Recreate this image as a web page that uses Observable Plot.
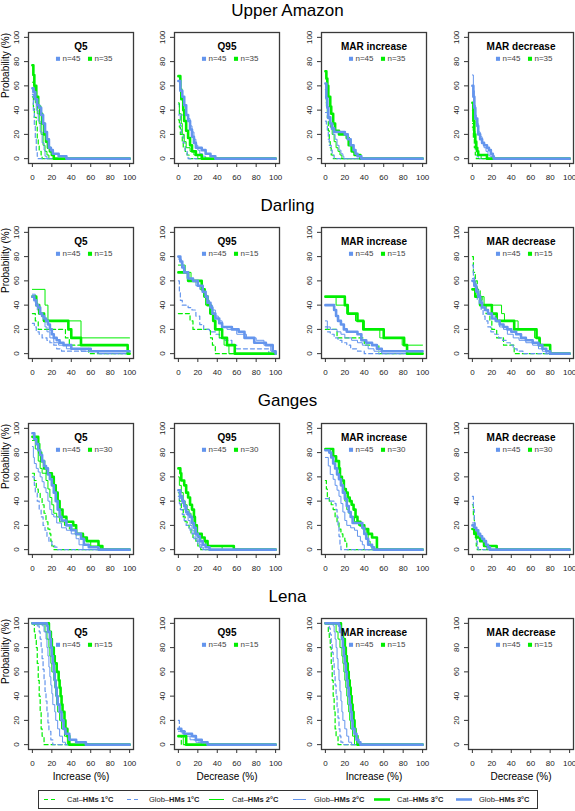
<!DOCTYPE html>
<html><head><meta charset="utf-8">
<script src="https://cdn.jsdelivr.net/npm/d3@7"></script>
<script src="https://cdn.jsdelivr.net/npm/@observablehq/plot@0.6"></script>
<style>
body{margin:0;background:#fff;font-family:"Liberation Sans",Arial,sans-serif;}
#root{position:relative;width:575px;height:811px;overflow:hidden;background:#fff;}
.basin{position:absolute;left:0;width:575px;text-align:center;font-size:17px;line-height:20px;color:#000;}
.panel{position:absolute;width:147px;}
.panel svg{max-width:none !important;}
#legend{position:absolute;left:0;top:786px;}
</style>
</head><body><div id="root"></div>
<script>
// ---- labels ----
const basins = ["Upper Amazon", "Darling", "Ganges", "Lena"];
const metrics = ["Q5", "Q95", "MAR increase", "MAR decrease"];
const xAxisLabels = ["Increase (%)", "Decrease (%)", "Increase (%)", "Decrease (%)"];
const nGlob = [45, 45, 45, 45];
const nCat = [35, 15, 30, 15];
const xTicks = [0, 20, 40, 60, 80, 100];
const yTicks = [0, 20, 40, 60, 80, 100];
const seriesNames = ["Cat–HMs 1°C", "Glob–HMs 1°C", "Cat–HMs 2°C", "Glob–HMs 2°C", "Cat–HMs 3°C", "Glob–HMs 3°C"];

// ---- exceedance curves: [x, probability] steps; order cat1, glob1, cat2, glob2, cat3, glob3 ----
const amazonQ5 = [
  [[0,51],[1,43],[2,34],[4,26],[5,17],[6,11],[7,6],[9,3],[10,0]],
  [[0,53],[1,40],[2,27],[3,16],[4,7],[5,2],[6,0]],
  [[0,63],[2,54],[3,46],[5,37],[7,29],[9,20],[11,11],[13,6],[15,3],[17,0]],
  [[0,58],[2,49],[4,40],[6,31],[8,22],[10,13],[12,7],[13,2],[15,0]],
  [[0,77],[1,69],[2,60],[4,51],[6,43],[8,37],[10,29],[12,20],[14,14],[16,9],[18,6],[20,3],[22,0]],
  [[0,58],[1,55],[3,49],[5,44],[7,42],[9,36],[11,29],[13,22],[15,16],[17,9],[19,7],[21,4],[27,2],[35,0]]
];
const amazonQ95 = [
  [[0,32],[1,26],[2,20],[4,14],[5,9],[7,6],[9,3],[11,0]],
  [[0,45],[1,35],[2,27],[3,20],[5,13],[7,7],[9,3],[10,0]],
  [[0,46],[1,37],[3,29],[4,20],[6,14],[8,9],[12,6],[16,3],[20,0]],
  [[0,36],[10,33],[12,27],[14,22],[16,16],[18,11],[20,7],[22,4],[25,2],[28,0]],
  [[0,68],[2,57],[3,49],[5,40],[6,31],[8,23],[10,17],[12,11],[14,6],[18,3],[24,0]],
  [[0,64],[2,56],[4,51],[6,44],[8,36],[10,31],[12,24],[14,18],[16,13],[18,9],[24,7],[28,4],[33,2],[38,0]]
];
const amazonMARinc = [
  [[0,57],[1,46],[2,34],[3,23],[4,14],[5,9],[6,3],[8,0]],
  [[0,31],[1,27],[2,22],[3,16],[4,11],[6,7],[7,3],[9,0]],
  [[0,51],[1,43],[3,34],[5,26],[7,20],[9,14],[11,9],[13,6],[15,3],[17,0]],
  [[0,38],[2,33],[4,29],[6,24],[8,20],[10,16],[12,11],[14,7],[16,4],[18,2],[19,0]],
  [[0,72],[1,66],[2,60],[3,51],[5,43],[6,37],[8,29],[10,23],[14,20],[22,17],[24,11],[27,6],[30,3],[36,0]],
  [[0,62],[1,50],[2,42],[3,34],[5,29],[7,25],[9,22],[20,20],[23,16],[26,11],[29,7],[31,4],[33,2],[37,0]]
];
const amazonMARdec = [
  [[0,26],[1,17],[2,9],[3,3],[4,0]],
  [[0,40],[1,31],[2,22],[3,13],[4,7],[5,2],[6,0]],
  [[0,29],[1,23],[2,17],[3,11],[4,6],[6,3],[9,0]],
  [[0,69],[1,56],[2,44],[3,36],[4,29],[6,22],[8,18],[10,13],[12,9],[14,6],[16,3],[18,2],[20,0]],
  [[0,46],[1,31],[2,20],[3,14],[4,9],[5,6],[6,3],[15,0]],
  [[0,60],[1,51],[2,42],[3,33],[5,27],[6,20],[8,16],[10,13],[12,11],[15,9],[17,7],[19,4],[21,2],[22,0]]
];
const darlingQ5 = [
  [[0,33],[3,27],[6,20],[34,13],[38,7],[58,0]],
  [[0,25],[2,22],[4,18],[7,16],[10,13],[15,11],[18,9],[22,7],[25,4],[30,2],[67,0]],
  [[0,53],[13,40],[16,27],[50,13]],
  [[0,49],[3,42],[5,36],[8,33],[11,27],[13,22],[15,18],[18,13],[22,9],[27,7],[35,4],[50,2],[68,0]],
  [[0,47],[4,40],[7,33],[12,27],[37,20],[40,13],[50,7],[98,0]],
  [[0,47],[2,44],[4,40],[6,38],[8,33],[10,31],[12,29],[14,27],[16,24],[18,20],[20,16],[22,13],[25,11],[28,9],[32,7],[40,4],[60,2]]
];
const darlingQ95 = [
  [[0,33],[12,27],[15,20],[33,13],[35,7],[38,0]],
  [[0,60],[1,51],[2,44],[4,40],[10,38],[14,36],[18,31],[22,24],[26,20],[32,18],[38,16],[42,13],[48,11],[55,7],[60,4],[93,0]],
  [[0,73],[7,67],[13,60],[24,53],[26,47],[28,40],[32,33],[35,27],[37,20],[42,13],[47,7],[52,0]],
  [[0,78],[3,73],[6,67],[9,62],[14,60],[18,56],[22,53],[26,49],[29,44],[32,40],[35,36],[38,31],[41,27],[45,22],[50,20],[60,16],[70,13],[80,11],[88,7],[95,2],[99,0]],
  [[0,67],[10,60],[24,53],[27,47],[30,40],[33,33],[36,27],[38,20],[45,13],[50,7],[58,0]],
  [[0,80],[2,76],[4,71],[6,67],[10,62],[15,60],[20,56],[25,51],[28,47],[30,42],[33,38],[35,33],[38,29],[42,25],[45,22],[55,20],[62,18],[68,13],[78,9],[90,7],[97,2],[100,0]]
];
const darlingMARinc = [
  [[0,20],[12,13],[40,7],[55,0]],
  [[0,22],[2,18],[5,16],[9,13],[13,11],[17,9],[22,7],[26,4],[33,2],[40,0]],
  [[0,47],[11,40],[22,33],[31,27],[40,20],[56,13],[79,7]],
  [[0,27],[2,22],[5,20],[12,18],[16,16],[20,13],[27,11],[33,9],[38,7],[44,4],[50,2],[58,0]],
  [[0,47],[20,40],[23,33],[33,27],[39,20],[60,13],[81,7],[84,0]],
  [[0,40],[9,36],[11,31],[13,27],[16,24],[19,20],[22,18],[33,16],[37,11],[42,9],[48,7],[53,4],[58,2]]
];
const darlingMARdec = [
  [[0,80],[1,67],[3,60],[5,53],[8,47],[10,40],[14,33],[18,27],[20,20],[25,13],[32,7],[43,0]],
  [[0,73],[1,64],[2,56],[3,51],[5,44],[7,40],[9,36],[11,31],[13,27],[16,22],[19,18],[23,16],[27,13],[31,11],[35,9],[39,7],[42,4],[46,2],[52,0]],
  [[0,60],[3,53],[6,47],[12,40],[30,33],[33,27],[47,20],[64,13],[70,7],[80,0]],
  [[0,62],[2,58],[4,53],[6,49],[8,44],[10,40],[13,36],[16,33],[20,31],[24,27],[28,22],[32,20],[36,16],[42,13],[48,11],[55,9],[62,7],[68,4],[72,2],[76,0]],
  [[0,53],[3,47],[8,40],[20,33],[25,27],[43,20],[66,13],[69,7],[80,0]],
  [[0,60],[2,56],[4,51],[6,47],[8,42],[10,38],[13,36],[16,33],[20,29],[24,27],[28,24],[32,22],[36,20],[40,18],[45,16],[50,13],[55,11],[62,9],[68,7],[72,4],[76,2],[80,0]]
];
const gangesQ5 = [
  [[0,63],[2,57],[4,50],[6,47],[8,43],[10,37],[12,30],[14,23],[16,17],[18,13],[19,7],[20,3],[22,0]],
  [[0,60],[2,53],[3,47],[5,40],[7,33],[9,27],[11,20],[13,16],[15,11],[17,7],[20,4],[23,2],[26,0]],
  [[0,90],[3,83],[6,73],[8,67],[10,63],[14,57],[16,50],[18,43],[20,37],[22,30],[25,27],[28,23],[33,20],[38,17],[45,13],[50,10],[55,7],[60,3],[70,0]],
  [[0,85],[1,76],[2,71],[4,67],[6,64],[8,60],[10,56],[12,51],[14,47],[16,40],[18,33],[20,29],[22,27],[25,22],[30,18],[35,16],[40,13],[45,9],[48,4],[52,0]],
  [[0,93],[6,87],[7,80],[9,73],[12,67],[15,63],[20,60],[22,53],[24,47],[26,40],[28,33],[31,27],[35,23],[42,20],[45,13],[52,10],[56,7],[68,3],[72,0]],
  [[0,96],[2,91],[4,87],[6,82],[8,78],[10,73],[12,69],[14,67],[16,62],[18,58],[20,53],[22,47],[24,40],[26,33],[28,27],[30,24],[35,20],[40,16],[45,13],[50,9],[53,4],[58,2],[68,0]]
];
const gangesQ95 = [
  [[0,47],[1,40],[3,33],[5,27],[7,23],[9,20],[11,17],[13,13],[15,10],[18,7],[20,3],[23,0]],
  [[0,44],[1,38],[2,33],[4,29],[6,24],[8,20],[10,18],[12,16],[14,13],[16,9],[18,7],[20,4],[22,2],[25,0]],
  [[0,60],[1,53],[3,47],[5,40],[7,37],[9,33],[11,30],[13,27],[15,20],[17,13],[20,10],[23,7],[28,3],[45,0]],
  [[0,47],[2,42],[4,38],[6,33],[8,29],[10,24],[12,20],[14,16],[16,13],[18,9],[20,7],[22,4],[24,2],[26,0]],
  [[0,67],[2,63],[3,57],[6,53],[8,47],[10,43],[12,37],[14,33],[16,27],[17,20],[19,13],[24,10],[27,7],[30,3],[57,0]],
  [[0,49],[2,44],[4,40],[6,36],[8,31],[10,29],[12,27],[14,22],[16,18],[18,13],[20,11],[22,7],[25,4],[28,2],[32,0]]
];
const gangesMARinc = [
  [[0,57],[1,50],[2,43],[4,40],[6,37],[8,33],[10,27],[12,23],[14,17],[16,13],[18,10],[20,7],[22,0]],
  [[0,42],[5,40],[10,38],[11,33],[12,27],[13,20],[14,11],[15,4],[16,0]],
  [[0,83],[5,80],[8,73],[10,67],[12,63],[14,60],[16,53],[18,47],[20,40],[22,33],[24,30],[26,27],[30,23],[34,20],[38,17],[42,13],[44,7],[46,3],[48,0]],
  [[0,76],[3,69],[5,62],[8,58],[10,53],[12,49],[14,44],[16,38],[18,31],[20,24],[22,20],[26,18],[30,16],[33,11],[36,7],[38,4],[40,0]],
  [[0,83],[8,77],[11,73],[14,67],[15,60],[17,57],[19,50],[21,47],[23,43],[25,40],[27,37],[29,33],[31,27],[33,23],[36,20],[40,17],[44,13],[48,10],[53,0]],
  [[0,82],[4,80],[6,76],[8,71],[10,67],[12,62],[14,58],[16,53],[18,47],[20,42],[22,36],[24,31],[26,27],[28,22],[38,18],[40,13],[42,9],[44,4],[48,2],[50,0]]
];
const gangesMARdec = [
  [[0,37],[1,27],[2,17],[3,10],[4,3],[5,0]],
  [[0,44],[1,33],[2,22],[3,13],[4,7],[5,2],[6,0]],
  [[0,20],[2,17],[4,13],[6,10],[9,7],[12,3],[15,0]],
  [[0,22],[2,18],[4,16],[6,13],[8,9],[10,7],[12,4],[14,2],[16,0]],
  [[0,17],[2,13],[4,10],[8,7],[12,3],[25,0]],
  [[0,20],[2,18],[4,16],[6,13],[8,11],[10,9],[12,7],[14,4],[16,2],[18,0]]
];
const lenaQ5 = [
  [[0,100],[2,93],[3,87],[4,80],[5,67],[6,53],[7,40],[8,27],[9,13],[10,7],[12,0]],
  [[0,100],[5,98],[7,93],[8,87],[9,80],[10,71],[11,62],[12,53],[13,44],[14,36],[15,27],[16,18],[17,11],[19,4],[21,0]],
  [[0,100],[13,93],[15,87],[17,80],[18,73],[19,67],[20,60],[22,53],[23,47],[24,40],[25,33],[26,27],[28,20],[30,13],[33,7],[36,0]],
  [[0,100],[10,98],[12,93],[14,87],[15,80],[16,73],[17,64],[18,56],[19,49],[20,42],[21,33],[23,27],[24,20],[26,13],[28,7],[31,2],[34,0]],
  [[0,100],[17,93],[19,87],[20,80],[22,73],[23,67],[25,60],[27,53],[28,47],[29,40],[30,33],[31,27],[33,20],[34,13],[36,7],[38,0]],
  [[0,100],[15,98],[16,93],[18,87],[19,80],[20,73],[21,67],[22,60],[23,53],[24,47],[25,40],[26,33],[28,27],[30,20],[32,13],[34,9],[38,4],[45,2],[55,0]]
];
const lenaQ95 = [
  [[0,7],[3,0]],
  [[0,20],[1,13],[3,11],[8,9],[12,7],[16,4],[20,2],[26,0]],
  [[0,7],[5,0]],
  [[0,11],[4,9],[8,7],[12,4],[18,2],[24,0]],
  [[0,7],[8,0]],
  [[0,13],[3,11],[6,9],[14,7],[18,4],[24,2],[30,0]]
];
const lenaMARinc = [
  [[0,100],[3,93],[4,87],[5,80],[6,67],[7,53],[8,40],[9,27],[10,13],[11,7],[13,0]],
  [[0,100],[4,96],[5,91],[6,84],[7,76],[8,67],[9,58],[10,49],[11,40],[12,31],[13,22],[14,13],[15,7],[16,2],[18,0]],
  [[0,100],[11,93],[13,87],[15,80],[17,73],[18,67],[19,60],[20,53],[21,47],[22,40],[23,33],[24,27],[25,20],[26,13],[28,7],[30,0]],
  [[0,100],[8,98],[9,93],[10,87],[11,80],[12,71],[13,62],[14,53],[15,44],[16,36],[17,27],[18,20],[20,13],[22,7],[24,2],[27,0]],
  [[0,100],[16,93],[18,87],[20,80],[21,73],[22,67],[23,60],[24,53],[25,47],[26,40],[27,33],[28,27],[29,20],[30,13],[31,7],[33,0]],
  [[0,100],[14,98],[15,93],[17,87],[18,80],[19,73],[20,67],[21,60],[22,53],[23,47],[24,40],[25,33],[26,27],[27,20],[28,13],[30,9],[32,4],[34,2],[36,0]]
];
const lenaMARdec = [[], [], [], [], [], []];

const panels = [
  [amazonQ5, amazonQ95, amazonMARinc, amazonMARdec],
  [darlingQ5, darlingQ95, darlingMARinc, darlingMARdec],
  [gangesQ5, gangesQ95, gangesMARinc, gangesMARdec],
  [lenaQ5, lenaQ95, lenaMARinc, lenaMARdec]
];

// ---- styles ----
const GREEN = "#00EE00", BLUE = "#6495ED";
const seriesStyle = [
  {stroke: GREEN, strokeWidth: 1.2, dash: "4,3"},
  {stroke: BLUE, strokeWidth: 1.2, dash: "4,3"},
  {stroke: GREEN, strokeWidth: 1, dash: null},
  {stroke: BLUE, strokeWidth: 1, dash: null},
  {stroke: GREEN, strokeWidth: 2.6, dash: null},
  {stroke: BLUE, strokeWidth: 2.6, dash: null}
];
const FONT = '"Liberation Sans", Arial, Helvetica, sans-serif';
const frameLeft = [28, 174, 321, 468];
const frameTop = [32, 227, 423, 618];
const basinTitleY = [1, 196, 391, 587];
const MT = 24, MB = 44, ML = 28, MR = 14, FW = 105, FH = 131;

const root = document.getElementById("root");

basins.forEach((b, r) => {
  const d = document.createElement("div");
  d.className = "basin";
  d.style.top = basinTitleY[r] + "px";
  d.textContent = b;
  root.appendChild(d);
});

for (let r = 0; r < 4; r++) {
  for (let c = 0; c < 4; c++) {
    const series = panels[r][c];
    const marks = [];
    series.forEach((pts, i) => {
      if (!pts.length) return;
      const st = seriesStyle[i];
      const data = pts.map(([x, y]) => ({x, y, s: seriesNames[i]}));
      data.push({x: 100, y: pts[pts.length - 1][1], s: seriesNames[i]});
      marks.push(Plot.line(data, {
        x: "x", y: "y", curve: "step-after",
        stroke: st.stroke, strokeWidth: st.strokeWidth,
        strokeDasharray: st.dash || undefined
      }));
    });
    marks.push(Plot.frame({stroke: "#3a3a3a", strokeWidth: 1.3}));
    marks.push(Plot.axisX({ticks: xTicks, tickSize: 4, tickPadding: 7, label: null, fontSize: 8, stroke: "#333"}));
    marks.push(Plot.axisY({ticks: yTicks, tickSize: 4, tickPadding: 6, tickRotate: -90, label: null, fontSize: 8, stroke: "#333"}));
    // panel title
    marks.push(Plot.text([metrics[c]], {text: d => d, frameAnchor: "top", dy: 14.7, lineAnchor: "middle", fontWeight: "bold", fontSize: 10, fill: "#000"}));
    // mini legend
    marks.push(Plot.dot([0], {frameAnchor: "top", dx: -23, dy: 26.3, symbol: "square", r: 2.3, fill: BLUE, stroke: "none"}));
    marks.push(Plot.text(["n=" + nGlob[r]], {text: d => d, frameAnchor: "top", dx: -18.5, dy: 26.3, textAnchor: "start", lineAnchor: "middle", fontSize: 8, fill: "#444"}));
    marks.push(Plot.dot([0], {frameAnchor: "top", dx: 9, dy: 26.3, symbol: "square", r: 2.3, fill: GREEN, stroke: "none"}));
    marks.push(Plot.text(["n=" + nCat[r]], {text: d => d, frameAnchor: "top", dx: 13.5, dy: 26.3, textAnchor: "start", lineAnchor: "middle", fontSize: 8, fill: "#444"}));
    if (c === 0) {
      marks.push(Plot.text(["Probability (%)"], {text: d => d, frameAnchor: "left", dx: -23, rotate: -90, fontSize: 10, fill: "#000"}));
    }
    if (r === 3) {
      marks.push(Plot.text([xAxisLabels[c]], {text: d => d, frameAnchor: "bottom", dy: 27, lineAnchor: "middle", fontSize: 10, fill: "#000"}));
    }
    const svg = Plot.plot({
      width: ML + FW + MR, height: MT + FH + MB,
      marginLeft: ML, marginRight: MR, marginTop: MT, marginBottom: MB,
      x: {domain: [-4, 104]},
      y: {domain: [-4, 104]},
      style: {fontFamily: FONT, fontSize: "8px", color: "#222", background: "transparent", overflow: "visible", maxWidth: "none"},
      marks
    });
    const wrap = document.createElement("div");
    wrap.className = "panel";
    wrap.style.left = (frameLeft[c] - ML) + "px";
    wrap.style.top = (frameTop[r] - MT) + "px";
    wrap.appendChild(svg);
    root.appendChild(wrap);
  }
}

// ---- bottom legend ----
const legendItems = [
  {sx: 44, ex: 57, tx: 67},
  {sx: 127, ex: 139, tx: 149},
  {sx: 209, ex: 224, tx: 232},
  {sx: 293, ex: 306, tx: 314},
  {sx: 374, ex: 390, tx: 397},
  {sx: 456, ex: 472, tx: 479}
];
const lsvg = d3.create("svg").attr("width", 575).attr("height", 25).attr("id", "legend")
  .style("font-family", FONT).style("font-size", "7.5px");
lsvg.append("rect").attr("x", 38.5).attr("y", 4.5).attr("width", 499).attr("height", 18)
  .attr("fill", "none").attr("stroke", "#333").attr("stroke-width", 1);
legendItems.forEach((it, i) => {
  const st = seriesStyle[i];
  lsvg.append("line").attr("x1", it.sx).attr("x2", it.ex).attr("y1", 13.5).attr("y2", 13.5)
    .attr("stroke", st.stroke).attr("stroke-width", st.strokeWidth)
    .attr("stroke-dasharray", st.dash);
  const parts = seriesNames[i].split("–");
  const t = lsvg.append("text").attr("x", it.tx).attr("y", 16).attr("fill", "#222");
  t.append("tspan").text(parts[0] + "–");
  t.append("tspan").attr("font-weight", "bold").text(parts[1]);
});
root.appendChild(lsvg.node());
</script>
</body></html>
